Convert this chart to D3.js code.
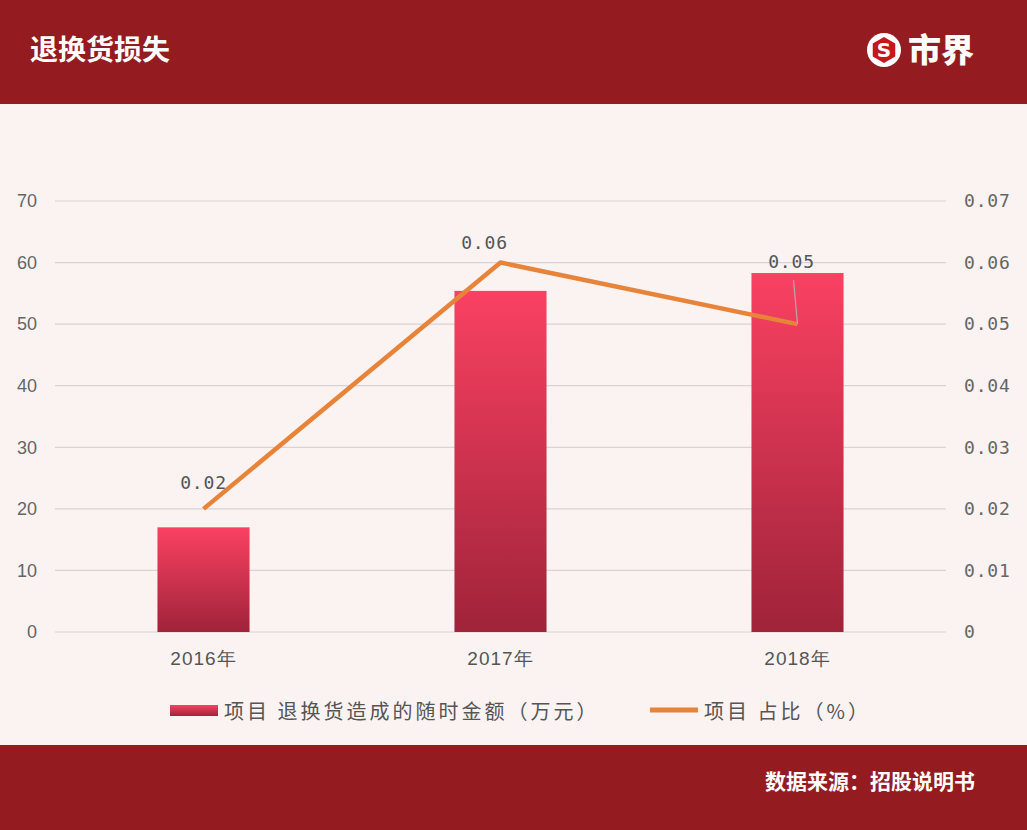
<!DOCTYPE html>
<html><head><meta charset="utf-8">
<script src="https://cdn.jsdelivr.net/npm/d3@7"></script>
<style>html,body{margin:0;padding:0;background:#faf3f2;}svg{display:block;}</style>
</head><body>
<script>
const categories = ["2016年","2017年","2018年"];
const amounts = [17, 55.4, 58.3];
const ratios = [0.02, 0.06, 0.05];
const leftTicks = [0,10,20,30,40,50,60,70];
const rightTicks = [0,0.01,0.02,0.03,0.04,0.05,0.06,0.07];
const title = "退换货损失";
const source = "数据来源：招股说明书";
const barLegend = "项目 退换货造成的随时金额（万元）";
const lineLegend = "项目 占比（%）";

const W=1027,H=830;
const svg=d3.select("body").append("svg").attr("width",W).attr("height",H);
const defs=svg.append("defs");
const g=defs.append("linearGradient").attr("id","barGrad").attr("x1",0).attr("y1",0).attr("x2",0).attr("y2",1);
g.append("stop").attr("offset","0%").attr("stop-color","#fa4162");
g.append("stop").attr("offset","100%").attr("stop-color","#9f2339");

svg.append("rect").attr("width",W).attr("height",H).attr("fill","#faf3f2");
svg.append("rect").attr("width",W).attr("height",104).attr("fill","#941c20");
svg.append("rect").attr("y",745).attr("width",W).attr("height",85).attr("fill","#941c20");

svg.append("text").attr("x",30).attr("y",60).text(title)
  .attr("fill","#fff").attr("font-size",28).attr("font-weight","bold").attr("font-family","Noto Sans CJK SC");
// logo
const lg=svg.append("g").attr("transform","translate(884,50)");
lg.append("circle").attr("r",17).attr("fill","#fff");
const hex=d3.range(6).map(k=>{const a=Math.PI/3*k+Math.PI/6;return [13*Math.cos(a),13*Math.sin(a)];});
lg.append("polygon").attr("points",hex.map(p=>p.join(",")).join(" ")).attr("fill","#c7161d");
lg.append("text").attr("text-anchor","middle").attr("y",7).text("S").attr("fill","#fff")
  .attr("font-size",20).attr("font-weight","bold").attr("font-family","DejaVu Sans");
svg.append("text").attr("x",908).attr("y",62).text("市界").attr("fill","#fff")
  .attr("font-size",33).attr("font-weight","900").attr("font-family","Noto Sans CJK SC");
svg.append("text").attr("x",975).attr("y",789).attr("text-anchor","end").text(source)
  .attr("fill","#fff").attr("font-size",21).attr("font-weight","bold").attr("font-family","Noto Sans CJK SC");

const x=d3.scaleBand().domain(categories).range([55,946]).paddingInner(0.69).paddingOuter(0.345);
const y=d3.scaleLinear().domain([0,70]).range([632,201]);
const y2=d3.scaleLinear().domain([0,0.07]).range([632,201]);

// grid
svg.append("g").selectAll("line").data(leftTicks).join("line")
  .attr("x1",55).attr("x2",946).attr("y1",d=>y(d)).attr("y2",d=>y(d))
  .attr("stroke","#d9d4d4").attr("stroke-width",1.2);

const axL=svg.append("g").attr("transform","translate(55,0)")
  .call(d3.axisLeft(y).tickValues(leftTicks).tickSize(0).tickPadding(18).tickFormat(d3.format("d")));
axL.select(".domain").remove();
axL.selectAll("text").attr("font-size",18).attr("fill","#666").attr("font-family","Liberation Sans");

const axR=svg.append("g").attr("transform","translate(946,0)")
  .call(d3.axisRight(y2).tickValues(rightTicks).tickSize(0).tickPadding(18).tickFormat(d=>d===0?"0":d3.format(".2f")(d)));
axR.select(".domain").remove();
axR.selectAll("text").attr("font-size",18).attr("letter-spacing",0.8).attr("fill","#666").attr("font-family","DejaVu Sans Mono");

const axB=svg.append("g").attr("transform","translate(0,632)")
  .call(d3.axisBottom(x).tickSize(0).tickPadding(20));
axB.select(".domain").remove();
axB.selectAll("text").attr("font-size",19).attr("letter-spacing",1).attr("fill","#555").attr("font-family","Liberation Sans");

svg.append("g").selectAll("rect").data(amounts).join("rect")
  .attr("x",(d,i)=>x(categories[i])).attr("width",x.bandwidth())
  .attr("y",d=>y(d)).attr("height",d=>y(0)-y(d)).attr("fill","url(#barGrad)");

const cx=(i)=>x(categories[i])+x.bandwidth()/2;
const line=d3.line().x((d,i)=>cx(i)).y(d=>y2(d));
svg.append("path").datum(ratios).attr("d",line).attr("fill","none")
  .attr("stroke","#e8843a").attr("stroke-width",4.5).attr("stroke-linejoin","round");

// data labels
const offs=[[0,-20],[-16,-14],[-6,-56]];
svg.append("g").selectAll("text").data(ratios).join("text")
  .attr("x",(d,i)=>cx(i)+offs[i][0]).attr("y",(d,i)=>y2(d)+offs[i][1])
  .attr("text-anchor","middle").text(d=>d3.format(".2f")(d))
  .attr("font-size",18).attr("letter-spacing",0.8).attr("fill","#555").attr("font-family","DejaVu Sans Mono");
// leader line for last label
svg.append("line").attr("x1",cx(2)-4).attr("y1",y2(ratios[2])-44).attr("x2",cx(2)).attr("y2",y2(ratios[2]))
  .attr("stroke","#b8a8aa").attr("stroke-width",1.2);

// legend
svg.append("rect").attr("x",170).attr("y",705).attr("width",48).attr("height",11).attr("fill","url(#barGrad)");
svg.append("text").attr("x",224).attr("y",719).text(barLegend).attr("font-size",20).attr("letter-spacing",3)
  .attr("fill","#555").attr("font-family","Noto Sans CJK SC");
svg.append("line").attr("x1",650).attr("x2",698).attr("y1",710).attr("y2",710).attr("stroke","#e8843a").attr("stroke-width",5);
svg.append("text").attr("x",704).attr("y",719).text(lineLegend).attr("font-size",20).attr("letter-spacing",3)
  .attr("fill","#555").attr("font-family","Noto Sans CJK SC");
</script>
</body></html>
